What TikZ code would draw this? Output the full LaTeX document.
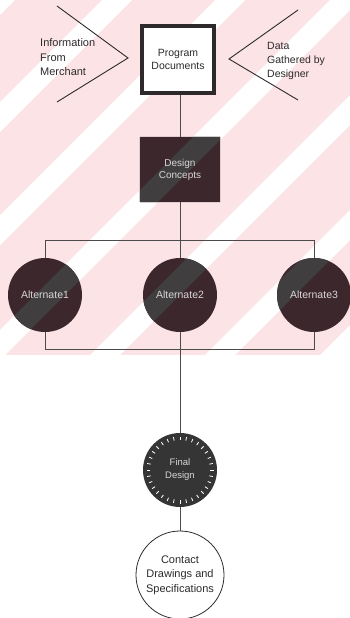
\documentclass[tikz,border=0pt]{standalone}
\usepackage{fontspec}
\setmainfont{Liberation Sans}
\usetikzlibrary{calc}
\definecolor{bgpink}{HTML}{FBE3E6}
\definecolor{darkfill}{HTML}{3C272D}
\definecolor{darkgrey}{HTML}{403E3F}
\definecolor{ink}{HTML}{2E2A2B}
\definecolor{lighttext}{HTML}{D9D6D7}
\pgfdeclarelayer{backdrop}
\pgfsetlayers{backdrop,main}
% diagonal bands running lower left to upper right
\newcommand\stripebands[1]{%
  \foreach \c in {0,117,230,345,460,575,690}{
    \fill[#1] (\c-15,0) -- (\c+15,0) -- (\c+15-700,700) -- (\c-15-700,700) -- cycle;
  }}
\tikzset{
  conn/.style={draw=ink!85, line width=0.6pt},
  chevron/.style={draw=ink, line width=0.9pt},
  sidetext/.style={align=left, text=ink, inner sep=0pt, anchor=west},
  progbox/.style={draw=ink, line width=4pt, fill=white, minimum width=72pt, minimum height=67pt,
                  align=center, text=ink, font=\fontsize{10.5}{13}\selectfont},
  darkbox/.style={minimum width=80pt, minimum height=65pt,
                  align=center, text=lighttext, font=\fontsize{10}{12}\selectfont},
  altcircle/.style={circle, minimum size=74pt, inner sep=0pt,
                  text=lighttext, font=\fontsize{10.5}{12}\selectfont},
  finalcircle/.style={circle, fill=darkgrey!85!black, minimum size=74pt, inner sep=0pt,
                  align=center, text=lighttext, font=\fontsize{9.5}{13}\selectfont},
  outcircle/.style={circle, draw=ink, line width=0.8pt, fill=white, minimum size=88pt, inner sep=0pt,
                  align=center, text=ink, font=\fontsize{11}{14.5}\selectfont},
}
\begin{document}
\begin{tikzpicture}[x=1pt, y=-1pt]
\useasboundingbox (0,0) rectangle (350,618);

% nodes
\node[progbox] (prog) at (178,59.5) {Program\\Documents};
\node[darkbox] (dc) at (180,169.5) {Design\\Concepts};
\node[altcircle] (alt1) at (45,295) {Alternate1};
\node[altcircle] (alt2) at (180,295) {Alternate2};
\node[altcircle] (alt3) at (314,295) {Alternate3};
\node[finalcircle] (final) at (180,470) {Final\\Design};
\node[outcircle] (out) at (180,575) {Contact\\Drawings and\\Specifications};

\begin{pgfonlayer}{backdrop}
  \fill[white] (0,0) rectangle (350,618);
  % striped pink backdrop behind the upper half
  \begin{scope}
    \clip (0,0) rectangle (350,355);
    \fill[bgpink] (0,0) rectangle (350,355);
    \stripebands{white}
  \end{scope}
  % dark fills of the concept box and the three alternates, banded like the backdrop
  \begin{scope}
    \clip (dc.north west) rectangle (dc.south east)
          (alt1.center) circle (37) (alt2.center) circle (37) (alt3.center) circle (37);
    \fill[darkfill] (0,0) rectangle (350,355);
    \stripebands{darkgrey}
  \end{scope}
\end{pgfonlayer}

% tick marks round the final design
\foreach \a in {0,11.25,...,359}{
  \draw[white, line width=0.8pt] ($(final.center)+(\a:30)$) -- ($(final.center)+(\a:33.5)$);
}

% side inputs
\node[sidetext, font=\fontsize{11}{14.5}\selectfont] (info) at (40,57.5) {Information\\From\\Merchant};
\node[sidetext, font=\fontsize{10.5}{14}\selectfont] (data) at (267,61) {Data\\Gathered by\\Designer};

\coordinate (lt) at (57,6);
\coordinate (lp) at (128,58);
\coordinate (lb) at (57,102);
\coordinate (rt) at (298,10);
\coordinate (rp) at (229,59);
\coordinate (rb) at (298,100);
\draw[chevron] (lt) -- (lp) -- (lb);
\draw[chevron] (rt) -- (rp) -- (rb);

% connectors
\draw[conn] (prog.south -| dc.north) -- (dc.north);
\draw[conn] (dc.south) -- (alt2.north);
\draw[conn] (alt1.north) -- ++(0,-18) -| (alt3.north);
\draw[conn] (alt1.south) -- ++(0,17) -| (alt3.south);
\draw[conn] (alt2.south) -- (final.north);
\draw[conn] (final.south) -- (out.north);
\end{tikzpicture}
\end{document}
